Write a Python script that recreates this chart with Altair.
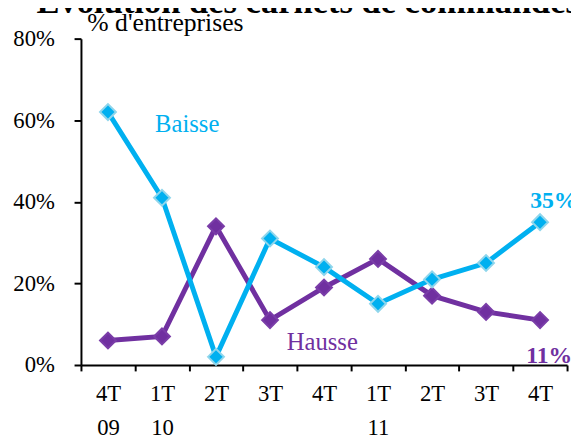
import json
import altair as alt
import pandas as pd

# ---- data ----
quarters = ["4T", "1T", "2T", "3T", "4T", "1T", "2T", "3T", "4T"]
years = ["09", "10", "10", "10", "10", "11", "11", "11", "11"]
year_shown = ["09", "10", "", "", "", "11", "", "", ""]
baisse = [62, 41, 2, 31, 24, 15, 21, 25, 35]
hausse = [6, 7, 34, 11, 19, 26, 17, 13, 11]
y_ticks = [0, 20, 40, 60, 80]
title_text = "Evolution des carnets de commandes"
y_title = "% d'entreprises"

keys = [f"{q} {y}" for q, y in zip(quarters, years)]
label_arrays = [[q, y] for q, y in zip(quarters, year_shown)]

df_b = pd.DataFrame({"key": keys, "value": baisse})
df_h = pd.DataFrame({"key": keys, "value": hausse})

CYAN = "#00B0F0"
CYAN_EDGE = "#8FD6EC"
PURPLE = "#7030A0"
PURPLE_EDGE = "#7A3DA8"
FONT = "'Liberation Serif', 'Times New Roman', 'DejaVu Serif', serif"

label_expr = f"{json.dumps(label_arrays)}[indexof({json.dumps(keys)}, datum.value)]"

x_enc = alt.X(
    "key:N",
    sort=keys,
    scale=alt.Scale(type="band", domain=keys, paddingInner=0, paddingOuter=0),
    axis=alt.Axis(
        title=None,
        labelAngle=0,
        labelExpr=label_expr,
        labelFont=FONT,
        labelFontSize=23,
        labelLineHeight=35,
        labelColor="black",
        labelPadding=12,
        tickBand="extent",
        tickSize=6,
        tickWidth=2,
        tickColor="black",
        domainColor="black",
        domainWidth=2,
        grid=False,
    ),
)
y_enc = alt.Y(
    "value:Q",
    scale=alt.Scale(domain=[0, 80], nice=False),
    axis=alt.Axis(
        values=y_ticks,
        labelExpr="datum.value + '%'",
        labelFont=FONT,
        labelFontSize=23,
        labelColor="black",
        labelPadding=20,
        tickSize=7,
        tickWidth=2,
        tickColor="black",
        domainColor="black",
        domainWidth=2,
        grid=False,
        title=y_title,
        titleAngle=0,
        titleFont=FONT,
        titleFontSize=26,
        titleFontWeight="normal",
        titleColor="black",
        titleAlign="left",
        titleBaseline="alphabetic",
        titleX=6,
        titleY=-8,
    ),
)

def series(df, color, edge):
    base = alt.Chart(df)
    line = base.mark_line(color=color, strokeWidth=5).encode(x=x_enc, y=y_enc)
    pts = base.mark_point(
        shape="diamond", filled=True, fill=color, stroke=edge,
        strokeWidth=2, size=260, opacity=1
    ).encode(x=x_enc, y=y_enc)
    return line + pts

h_layer = series(df_h, PURPLE, PURPLE_EDGE)
b_layer = series(df_b, CYAN, CYAN_EDGE)

def note(text, key, val, color, bold, dx, size):
    return alt.Chart(pd.DataFrame({"t": [text]})).mark_text(
        font=FONT, fontSize=size, fontWeight="bold" if bold else "normal",
        color=color, align="left", baseline="alphabetic", dx=dx
    ).encode(x=alt.datum(key), y=alt.datum(val), text="t:N")

notes = (
    note("Baisse", keys[1], 57, CYAN, False, -7, 25)
    + note("Hausse", keys[3], 3.6, PURPLE, False, 17, 25)
    + note(f"{baisse[-1]}%", keys[-1], 38.6, CYAN, True, -10, 24)
    + note(f"{hausse[-1]}%", keys[-1], 0.4, PURPLE, True, -14, 24)
)

chart = (
    alt.layer(h_layer, b_layer, notes)
    .properties(
        width=493,
        height=331,
        autosize=alt.AutoSizeParams(type="none"),
        padding={"left": 74, "top": 28, "right": 4, "bottom": 73},
        title=alt.TitleParams(
            title_text, font=FONT, fontSize=35, fontWeight="bold",
            color="black", anchor="start", dx=-45, dy=38, offset=0,
            baseline="alphabetic", frame="group",
        ),
    )
    .configure_view(stroke=None)
)

chart.save("out.html", embed_options={"renderer": "svg", "actions": False})
